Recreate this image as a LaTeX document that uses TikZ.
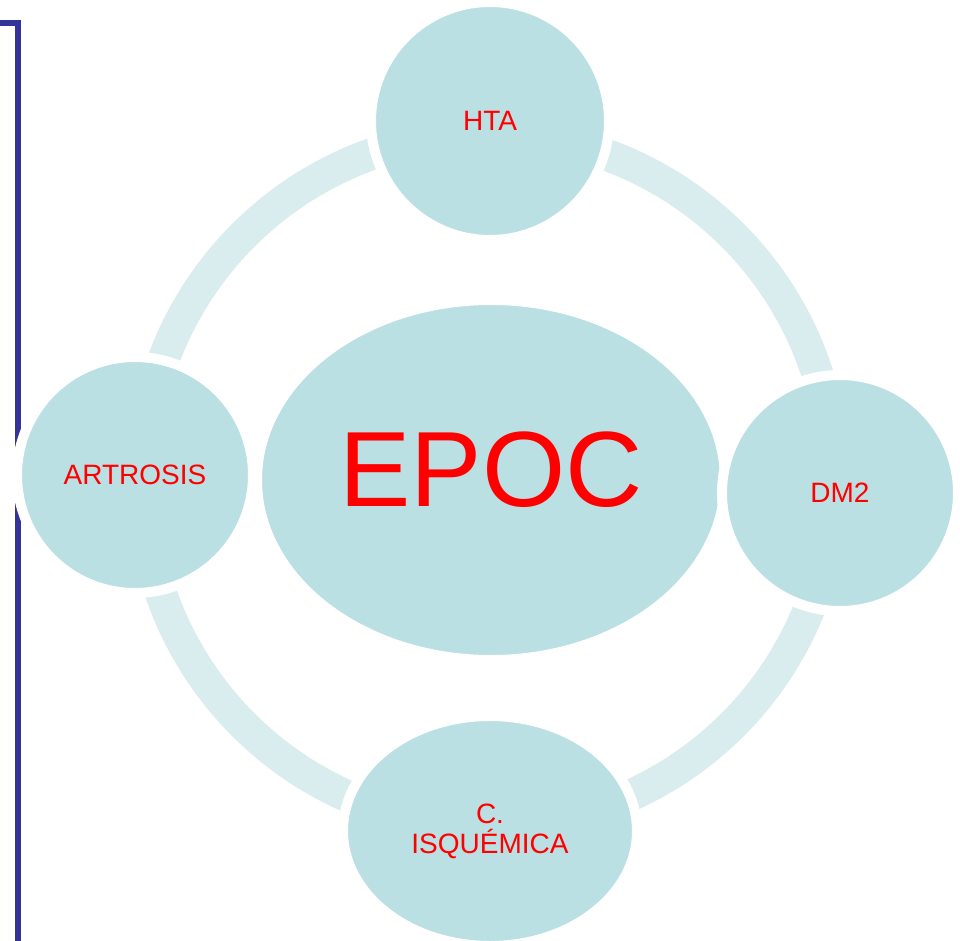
\documentclass[tikz,border=0pt]{standalone}
\usepackage{fontspec}
\setmainfont{Liberation Sans}
\usetikzlibrary{shapes.geometric}
\definecolor{bubble}{HTML}{BBE0E3}
\definecolor{ringc}{HTML}{D9EDEF}
\definecolor{txtred}{HTML}{FF0000}
\definecolor{frameblue}{HTML}{333399}
\tikzset{
  bubblec/.style={circle, fill=bubble, draw=white, line width=10pt, inner sep=0pt,
    text=txtred, font=\fontsize{28}{30}\selectfont, align=center},
  bubblee/.style={ellipse, fill=bubble, draw=white, line width=10pt, inner sep=0pt,
    text=txtred, font=\fontsize{28}{30}\selectfont, align=center},
  ringline/.style={draw=ringc, line width=32pt},
  frameline/.style={draw=frameblue, line width=6pt},
  bigtext/.style={text=txtred, font=\fontsize{107}{110}\selectfont, inner sep=0pt}
}
\begin{document}
\begin{tikzpicture}[x=1pt,y=-1pt]
\useasboundingbox (0,0) rectangle (960,941);
% frame
\coordinate (f0) at (0,23);
\coordinate (f1) at (18,23);
\coordinate (f2) at (18,945);
\draw[frameline] (f0) -- (f1) -- (f2);
% ring
\coordinate (rc) at (488,480);
\draw[ringline] (rc) circle (346);
% nodes
\node[bubblee, minimum width=468, minimum height=360] (epoc) at (491,480) {};
\node[bigtext] (epoctext) at (491,470) {EPOC};
\node[bubblec, minimum size=238] (hta) at (490,121) {HTA};
\node[bubblec, minimum size=236] (artrosis) at (135,475) {ARTROSIS};
\node[bubblec, minimum size=236] (dm2) at (840,493) {DM2};
\node[bubblee, minimum width=294, minimum height=230] (isq) at (490,831) {C.\\ISQUÉMICA};
\end{tikzpicture}
\end{document}
